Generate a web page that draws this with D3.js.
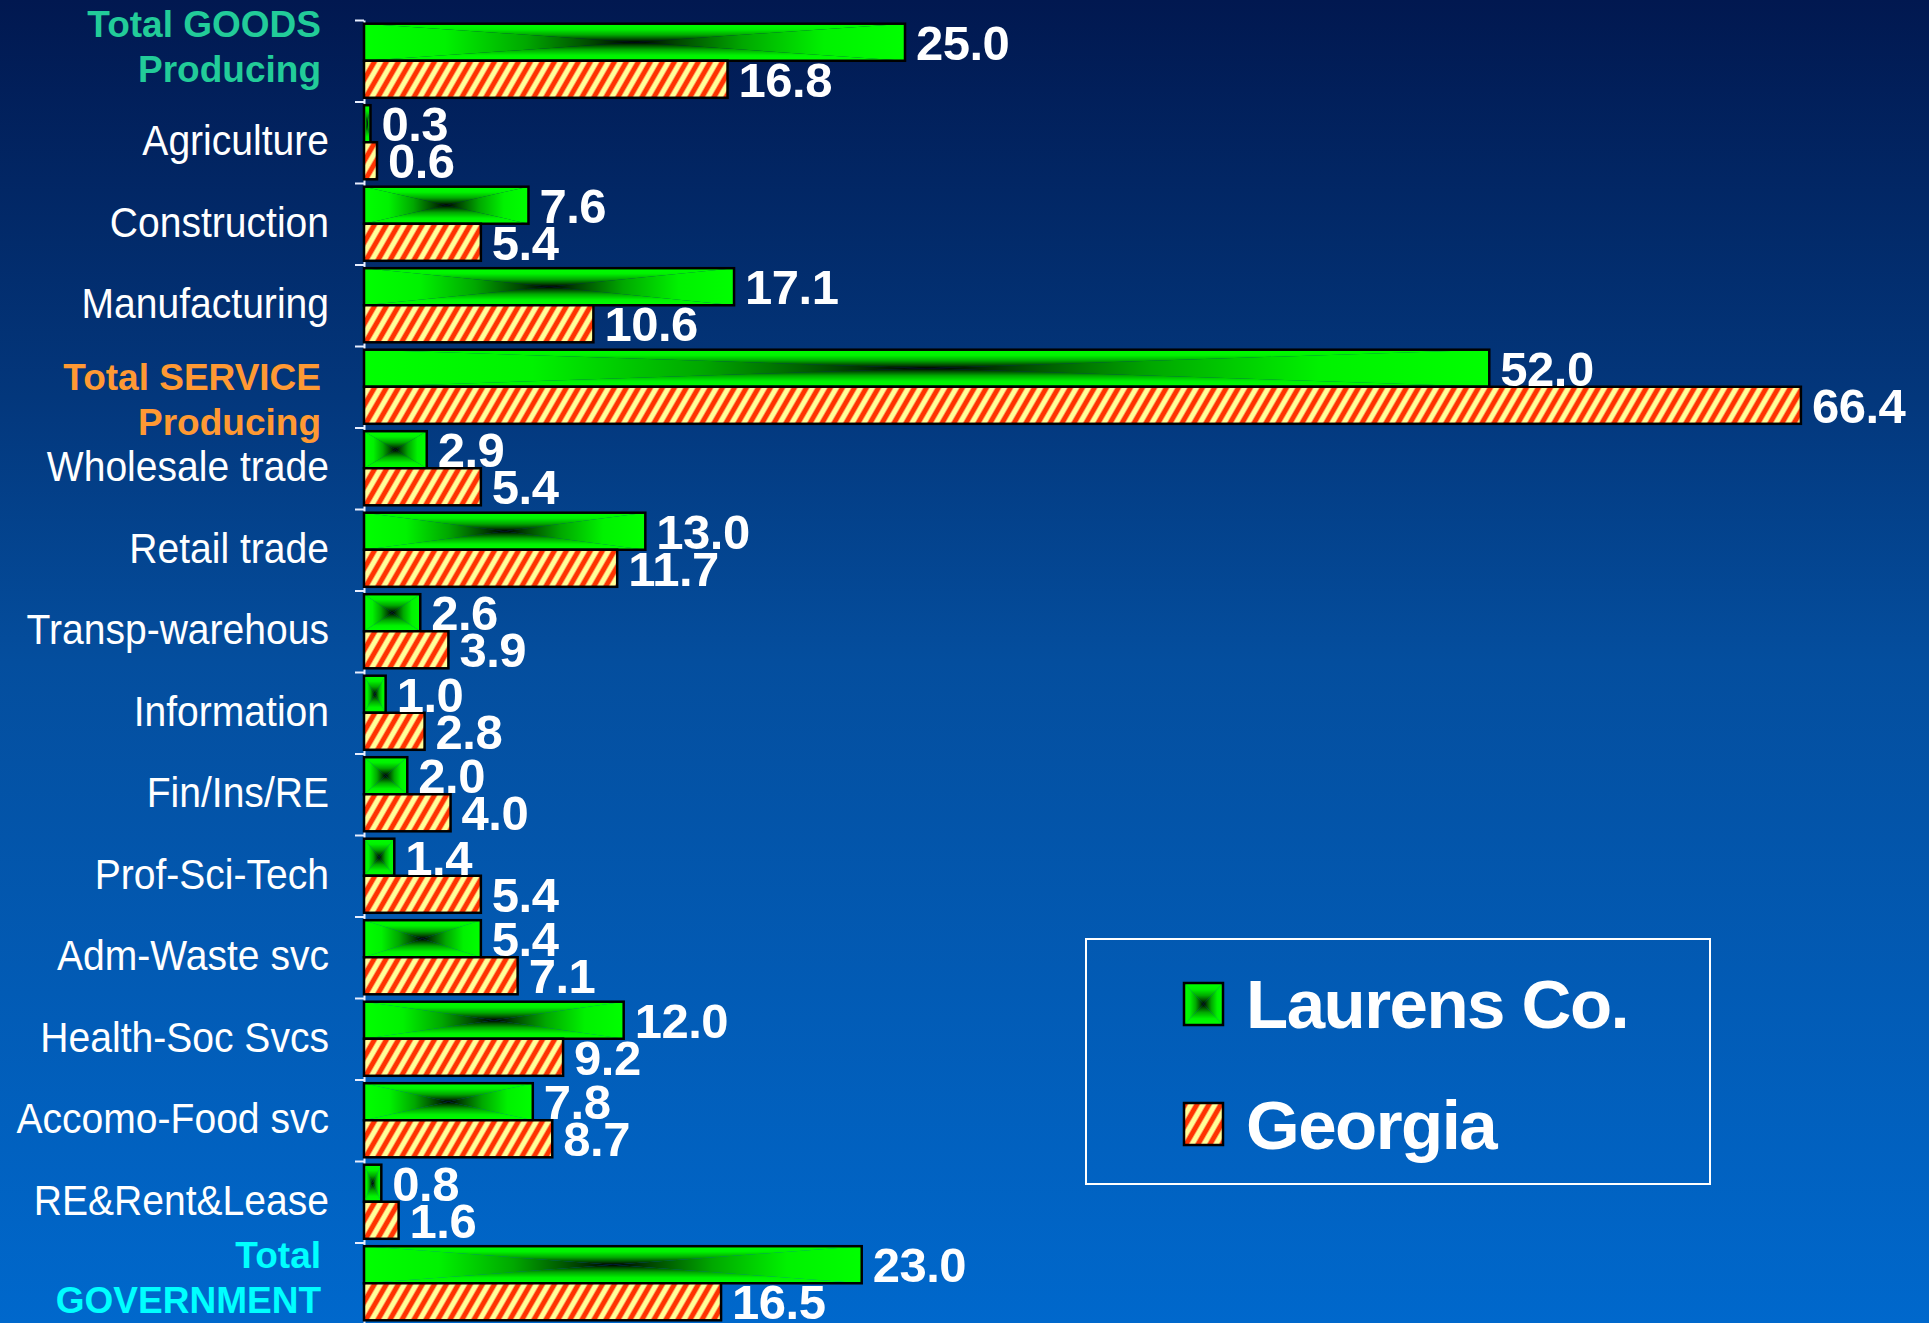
<!DOCTYPE html>
<html>
<head>
<meta charset="utf-8">
<title>Laurens Co. vs Georgia</title>
<script src="https://cdn.jsdelivr.net/npm/d3@7"></script>
<style>
  html, body { margin: 0; padding: 0; background: #001a55; }
  svg { display: block; font-family: "Liberation Sans", Arial, sans-serif; }
</style>
</head>
<body>
<div id="chart"></div>
<script>
(function () {

  var categories = [
    'Total GOODS Producing', 'Agriculture', 'Construction', 'Manufacturing',
    'Total SERVICE Producing', 'Wholesale trade', 'Retail trade', 'Transp-warehous',
    'Information', 'Fin/Ins/RE', 'Prof-Sci-Tech', 'Adm-Waste svc',
    'Health-Soc Svcs', 'Accomo-Food svc', 'RE&Rent&Lease', 'Total GOVERNMENT'
  ]
    , laurens = [25.0, 0.3, 7.6, 17.1, 52.0, 2.9, 13.0, 2.6, 1.0, 2.0, 1.4, 5.4, 12.0, 7.8, 0.8, 23.0]
    , georgia = [16.8, 0.6, 5.4, 10.6, 66.4, 5.4, 11.7, 3.9, 2.8, 4.0, 5.4, 7.1, 9.2, 8.7, 1.6, 16.5]
    , seriesNames = ['Laurens Co.', 'Georgia']
  ;

  // the three total rows get two coloured bold lines
  var totals = {
    'Total GOODS Producing': { lines: ['Total GOODS', 'Producing'], color: '#22cc99', dy: [17, 62] },
    'Total SERVICE Producing': { lines: ['Total SERVICE', 'Producing'], color: '#ff9933', dy: [44, 89] },
    'Total GOVERNMENT': { lines: ['Total', 'GOVERNMENT'], color: '#00ffff', dy: [25.5, 70.5] }
  };

  var width = 1929
    , height = 1323
    , axisX = 364
    , pxPerUnit = 21.64
  ;

  var svg = d3.select('#chart').append('svg')
      .attr('width', width)
      .attr('height', height)
  ;

  var defs = svg.append('defs');

  var bg = defs.append('linearGradient')
      .attr('id', 'bg').attr('x1', 0).attr('y1', 0).attr('x2', 0).attr('y2', 1);
  [[0, '#011850'], [0.3, '#03377c'], [0.5, '#044e9e'], [1, '#0068cc']].forEach(function (s) {
    bg.append('stop').attr('offset', s[0]).attr('stop-color', s[1]);
  });

  // rectangular "from centre" gradient built from four triangles
  var greenStops = [[0, '#00ff00'], [0.3, '#00f200'], [0.6, '#00a800'], [0.85, '#004400'], [1, '#000000']];
  [['gL', 0, 0, 1, 0], ['gR', 1, 0, 0, 0], ['gT', 0, 0, 0, 1], ['gB', 0, 1, 0, 0]].forEach(function (g) {
    var lg = defs.append('linearGradient')
        .attr('id', g[0])
        .attr('x1', g[1]).attr('y1', g[2]).attr('x2', g[3]).attr('y2', g[4]);
    greenStops.forEach(function (s) {
      lg.append('stop').attr('offset', s[0]).attr('stop-color', s[1]);
    });
  });

  var hatch = defs.append('pattern')
      .attr('id', 'hatch')
      .attr('patternUnits', 'userSpaceOnUse')
      .attr('width', 12).attr('height', 12)
      .attr('patternTransform', 'skewX(-30)');
  hatch.append('rect').attr('width', 12).attr('height', 12).attr('fill', '#ffff99');
  hatch.append('rect').attr('x', 0).attr('width', 5).attr('height', 12).attr('fill', '#ff3300');
  hatch.append('rect').attr('x', 5).attr('width', 1).attr('height', 12).attr('fill', '#ffa060');
  hatch.append('rect').attr('x', 11).attr('width', 1).attr('height', 12).attr('fill', '#ffa060');

  svg.append('rect')
      .attr('width', width).attr('height', height)
      .attr('fill', 'url(#bg)');

  var x = d3.scaleLinear()
      .domain([0, 70])
      .range([axisX, axisX + 70 * pxPerUnit]);

  var y = d3.scaleBand()
      .domain(categories)
      .range([20, 1324]);

  var inner = d3.scaleBand()
      .domain(seriesNames)
      .range([0, y.bandwidth()])
      .paddingOuter(0.1);

  var rows = categories.map(function (c, i) {
    return { cat: c, values: [laurens[i], georgia[i]] };
  });

  // category axis: ticks sit on band boundaries
  var tickScale = d3.scaleLinear().domain([0, categories.length]).range(y.range());
  var axis = svg.append('g')
      .attr('transform', 'translate(' + axisX + ',0)')
      .call(d3.axisLeft(tickScale)
        .tickValues(d3.range(categories.length + 1))
        .tickFormat('')
        .tickSize(9)
        .tickSizeOuter(0));
  axis.select('.domain').attr('stroke', '#e8eeff').attr('stroke-width', 2);
  axis.selectAll('.tick line').attr('stroke', '#e8eeff').attr('stroke-width', 2);

  var row = svg.selectAll('g.row')
    .data(rows)
      .enter()
      .append('g')
        .attr('class', 'row')
        .attr('transform', function (d) { return 'translate(0,' + y(d.cat) + ')'; })
  ;

  // green bars
  row.each(function (d) {
    var g = d3.select(this)
      , x0 = x(0), x1 = x(d.values[0])
      , y0 = inner(seriesNames[0]), y1 = y0 + inner.bandwidth()
      , cx = (x0 + x1) / 2, cy = (y0 + y1) / 2
    ;
    var tri = [
      ['gL', [[x0, y0], [cx, cy], [x0, y1]]],
      ['gR', [[x1, y0], [cx, cy], [x1, y1]]],
      ['gT', [[x0, y0], [x1, y0], [cx, cy]]],
      ['gB', [[x0, y1], [x1, y1], [cx, cy]]]
    ];
    tri.forEach(function (t) {
      g.append('path')
          .attr('d', 'M' + t[1].join('L') + 'Z')
          .attr('fill', 'url(#' + t[0] + ')');
    });
    g.append('rect')
        .attr('x', x0).attr('y', y0)
        .attr('width', x1 - x0).attr('height', y1 - y0)
        .attr('fill', 'none')
        .attr('stroke', '#000').attr('stroke-width', 2.5);
  });

  // hatched bars
  row.append('rect')
      .attr('x', x(0))
      .attr('y', inner(seriesNames[1]))
      .attr('width', function (d) { return x(d.values[1]) - x(0); })
      .attr('height', inner.bandwidth())
      .attr('fill', 'url(#hatch)')
      .attr('stroke', '#000')
      .attr('stroke-width', 2.5)
  ;

  // value labels
  seriesNames.forEach(function (s, k) {
    row.append('text')
        .attr('x', function (d) { return x(d.values[k]) + 11; })
        .attr('y', inner(s) + inner.bandwidth() / 2 + 17.5)
        .attr('fill', '#fff')
        .attr('font-weight', 'bold')
        .attr('font-size', 49)
        .attr('letter-spacing', -0.5)
        .text(function (d) { return d.values[k].toFixed(1); })
    ;
  });

  // category labels (reference type is a touch condensed)
  row.each(function (d) {
    var g = d3.select(this), t = totals[d.cat];
    if (t) {
      t.lines.forEach(function (line, i) {
        g.append('text')
            .attr('x', 321)
            .attr('y', t.dy[i])
            .attr('text-anchor', 'end')
            .attr('fill', t.color)
            .attr('font-weight', 'bold')
            .attr('font-size', 37)
            .text(line);
      });
    } else {
      g.append('text')
          .attr('transform', 'translate(329,' + (y.bandwidth() / 2 + 13) + ') scale(0.93,1)')
          .attr('text-anchor', 'end')
          .attr('fill', '#fff')
          .attr('font-size', 42)
          .text(d.cat);
    }
  });

  // legend
  var legend = svg.append('g').attr('transform', 'translate(1086,939)');
  legend.append('rect')
      .attr('width', 624).attr('height', 245)
      .attr('fill', 'none')
      .attr('stroke', '#fff').attr('stroke-width', 2);

  var sw = 39, sh = 42
    , swatchY = [44, 164]
  ;
  var lg = legend.append('g').attr('transform', 'translate(98,' + swatchY[0] + ')');
  [
    ['gL', [[0, 0], [sw / 2, sh / 2], [0, sh]]],
    ['gR', [[sw, 0], [sw / 2, sh / 2], [sw, sh]]],
    ['gT', [[0, 0], [sw, 0], [sw / 2, sh / 2]]],
    ['gB', [[0, sh], [sw, sh], [sw / 2, sh / 2]]]
  ].forEach(function (t) {
    lg.append('path').attr('d', 'M' + t[1].join('L') + 'Z').attr('fill', 'url(#' + t[0] + ')');
  });
  lg.append('rect').attr('width', sw).attr('height', sh)
      .attr('fill', 'none').attr('stroke', '#000').attr('stroke-width', 2.5);

  legend.append('rect')
      .attr('x', 98).attr('y', swatchY[1])
      .attr('width', sw).attr('height', sh)
      .attr('fill', 'url(#hatch)')
      .attr('stroke', '#000').attr('stroke-width', 2.5);

  legend.selectAll('text.legend')
    .data(seriesNames)
      .enter()
      .append('text')
        .attr('class', 'legend')
        .attr('x', 160)
        .attr('y', function (d, i) { return [89, 210][i]; })
        .attr('fill', '#fff')
        .attr('font-weight', 'bold')
        .attr('font-size', 69)
        .attr('letter-spacing', -1.5)
        .text(function (d) { return d; })
  ;

}).call(this);
</script>
</body>
</html>
